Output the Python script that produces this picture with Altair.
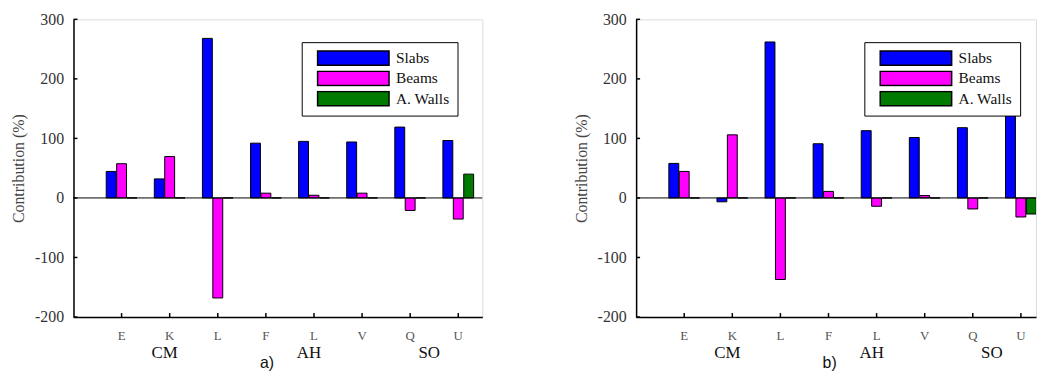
import altair as alt
import pandas as pd

categories = ["E", "K", "L", "F", "L", "V", "Q", "U"]
groups = ["CM", "CM", "CM", "AH", "AH", "AH", "SO", "SO"]
series = ["Slabs", "Beams", "A. Walls"]
colors = ["#0000FF", "#FF00FF", "#007A00"]
y_ticks = [-200, -100, 0, 100, 200, 300]

slabs_a = [44.5, 32, 268, 92, 95, 94, 119, 96.5]
beams_a = [57.5, 69.5, -168, 8, 4.5, 8, -21, -35.5]
walls_a = [0, 0, 0, 0, 0, 0, 0, 40]

slabs_b = [58, -6.5, 262, 91, 113, 101.5, 118, 185]
beams_b = [44.5, 106, -137, 11, -14, 4, -18.5, -32]
walls_b = [0, 0, 0, 0, 0, 0, 0, -27]

SERIF = "Liberation Serif"
SANS = "Liberation Sans"
H = 300
PX_PER_UNIT = 412 / 8.5

X_AXIS = alt.Axis(title=None, labels=False, ticks=False, grid=False,
                  domainColor="black", domainWidth=1.5)
Y_AXIS = alt.Axis(values=y_ticks, title="Contribution (%)", grid=False, ticks=False,
                  labelExpr="datum.value < 0 ? '-' + abs(datum.value) : '' + datum.value",
                  labelPadding=10, labelFont=SERIF, labelFontSize=16, labelColor="#333",
                  titleFont=SERIF, titleFontSize=16, titleColor="#444",
                  titleFontWeight="normal", titlePadding=8,
                  domainColor="black", domainWidth=1.5)


def long_df(slabs, beams, walls):
    rows = []
    for s_i, (name, vals) in enumerate(zip(series, [slabs, beams, walls])):
        for c_i, v in enumerate(vals):
            rows.append({"pos": c_i + 1, "series": name, "sidx": s_i - 1, "value": v})
    return pd.DataFrame(rows)


cat_df = pd.DataFrame({"pos": list(range(1, len(categories) + 1)),
                       "letter": categories, "group": groups})
tick_df = pd.DataFrame({"v": y_ticks})


def panel(slabs, beams, walls, tag, width):
    df = long_df(slabs, beams, walls)
    xs = alt.Scale(domain=[0, width / PX_PER_UNIT], nice=False, zero=False)
    ys = alt.Scale(domain=[-200, 300], nice=False, zero=False)

    zero = alt.Chart(pd.DataFrame({"z": [0]})).mark_rule(color="black", strokeWidth=1).encode(
        y=alt.Y("z:Q", scale=ys, axis=Y_AXIS))

    bars = alt.Chart(df).transform_calculate(
        x0="datum.pos + datum.sidx * 0.2165 - 0.103",
        x1="datum.pos + datum.sidx * 0.2165 + 0.103",
    ).mark_bar(stroke="black", strokeWidth=1, opacity=1, clip=True).encode(
        x=alt.X("x0:Q", scale=xs, axis=X_AXIS),
        x2="x1:Q",
        y=alt.Y("value:Q", scale=ys, axis=Y_AXIS),
        y2=alt.datum(0),
        fill=alt.Fill("series:N", sort=series, scale=alt.Scale(domain=series, range=colors),
                      legend=alt.Legend(title=None, orient="none", legendX=230, legendY=23,
                                        symbolType="M-1,-0.2H1V0.2H-1Z", symbolSize=5184,
                                        symbolStrokeColor="black", symbolStrokeWidth=1.5,
                                        symbolOpacity=1, labelFont=SERIF, labelFontSize=15.5,
                                        labelColor="#111", labelOffset=6, padding=8,
                                        clipHeight=16, rowPadding=3.5, symbolOffset=7,
                                        strokeColor="black", fillColor="white")),
    )

    yt = alt.Chart(tick_df).mark_rule(color="black", strokeWidth=1.5).encode(
        y=alt.Y("v:Q", scale=ys, axis=Y_AXIS), x=alt.value(0), x2=alt.value(4))

    xt = alt.Chart(cat_df).mark_rule(color="black", strokeWidth=1.5).encode(
        x=alt.X("pos:Q", scale=xs, axis=X_AXIS), y=alt.value(H), y2=alt.value(H - 4))

    letters = alt.Chart(cat_df).mark_text(font=SERIF, fontSize=13, color="#555",
                                          baseline="middle").encode(
        x=alt.X("pos:Q", scale=xs, axis=X_AXIS), y=alt.value(H + 19), text="letter:N")

    grp = alt.Chart(cat_df).transform_aggregate(
        mpos="mean(pos)", groupby=["group"]
    ).mark_text(font=SERIF, fontSize=17, color="#111", baseline="middle", dx=-5).encode(
        x=alt.X("mpos:Q", scale=xs, axis=X_AXIS), y=alt.value(H + 36), text="group:N")

    lab = alt.Chart(pd.DataFrame({"t": [tag]})).mark_text(
        font=SANS, fontSize=16, color="#111", baseline="middle").encode(
        x=alt.value(195), y=alt.value(H + 46), text="t:N")

    return alt.layer(bars, zero, yt, xt, letters, grp, lab).properties(width=width, height=H)


left = panel(slabs_a, beams_a, walls_a, "a)", 412)
right = panel(slabs_b, beams_b, walls_b, "b)", 403)

chart = alt.hconcat(left, right, spacing=90).resolve_scale(
    fill="independent").resolve_legend(fill="independent").configure_view(
    stroke=None).configure_legend(strokeWidth=1.5).configure(font=SERIF).properties(
    padding={"left": 2, "top": 1, "right": 0, "bottom": 0}, background="white")

chart.save("out.html", embed_options={"renderer": "svg", "actions": False})
